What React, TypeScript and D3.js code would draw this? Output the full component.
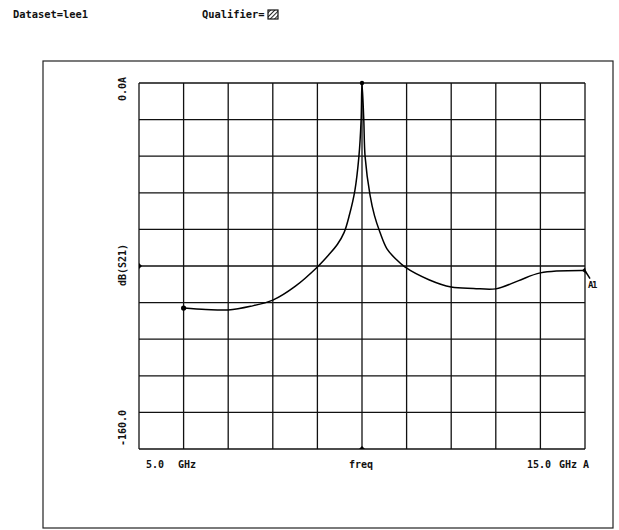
import React, { useEffect, useRef } from 'react';
import * as d3 from 'd3';

// trace values (frequency in GHz, dB(S21))
const freqGHz = [6.0, 6.5, 7.0, 7.5, 8.0, 8.5, 9.0, 9.25, 9.45, 9.6, 9.72, 9.84, 9.93, 9.98, 10.0, 10.04, 10.07, 10.18, 10.28, 10.4, 10.56, 10.75, 10.96, 11.5, 12.0, 12.5, 13.0, 13.5, 14.0, 15.0];
const dbS21 = [-98.4, -99.0, -99.2, -97.6, -94.9, -88.9, -80.4, -75.2, -70.5, -65.3, -57.5, -47.0, -32.3, -16.2, 0.0, -16.2, -32.3, -49.0, -58.0, -65.1, -72.5, -76.8, -80.4, -86.0, -89.2, -89.8, -90.0, -86.5, -83.0, -82.0];

const xTicks = [5, 6, 7, 8, 9, 10, 11, 12, 13, 14, 15];
const yTicks = [0, -16, -32, -48, -64, -80, -96, -112, -128, -144, -160];
const refLevel = -80;

const W = 619;
const H = 530;
const FONT = '"DejaVu Sans Mono", monospace';

const App = () => {
  const ref = useRef<SVGSVGElement | null>(null);

  useEffect(() => {
    if (!ref.current) return;
    const svg = d3.select(ref.current);
    svg.selectAll('*').remove();

    const plot = { left: 139, top: 83, right: 585, bottom: 449 };

    const x = d3.scaleLinear().domain([5, 15]).range([plot.left, plot.right]);
    const y = d3.scaleLinear().domain([-160, 0]).range([plot.bottom, plot.top]);

    // hatch pattern for the qualifier box
    const defs = svg.append('defs');
    const pat = defs.append('pattern')
      .attr('id', 'hatch')
      .attr('patternUnits', 'userSpaceOnUse')
      .attr('width', 3)
      .attr('height', 3)
      .attr('patternTransform', 'rotate(45)');
    pat.append('rect').attr('width', 3).attr('height', 3).attr('fill', '#fff');
    pat.append('line').attr('x1', 0).attr('y1', 0).attr('x2', 0).attr('y2', 3)
      .attr('stroke', '#111').attr('stroke-width', 1.8);

    // header
    svg.append('text')
      .attr('x', 13).attr('y', 18)
      .style('font-family', FONT).style('font-size', '10.4px').style('font-weight', 'bold')
      .attr('fill', '#111')
      .text('Dataset=lee1');
    svg.append('text')
      .attr('x', 202).attr('y', 18)
      .style('font-family', FONT).style('font-size', '10.4px').style('font-weight', 'bold')
      .attr('fill', '#111')
      .text('Qualifier=');
    svg.append('rect')
      .attr('x', 268).attr('y', 10).attr('width', 10).attr('height', 9)
      .attr('fill', 'url(#hatch)').attr('stroke', '#111').attr('stroke-width', 1.2);

    // outer frame
    svg.append('rect')
      .attr('x', 43).attr('y', 61).attr('width', 570).attr('height', 467)
      .attr('fill', 'none').attr('stroke', '#222').attr('stroke-width', 1.2);

    // grid
    const grid = svg.append('g').attr('stroke', '#111').attr('stroke-width', 1.3);
    grid.selectAll('.vx')
      .data(xTicks)
      .enter()
      .append('line')
      .attr('x1', d => x(d)).attr('x2', d => x(d))
      .attr('y1', plot.top).attr('y2', plot.bottom);
    grid.selectAll('.hy')
      .data(yTicks)
      .enter()
      .append('line')
      .attr('y1', d => y(d)).attr('y2', d => y(d))
      .attr('x1', plot.left).attr('x2', plot.right);

    // trace
    const line = d3.line<number>()
      .x((d, i) => x(freqGHz[i]))
      .y(d => y(d))
      .curve(d3.curveCatmullRom.alpha(0.5));
    svg.append('path')
      .datum(dbS21)
      .attr('d', line)
      .attr('fill', 'none')
      .attr('stroke', '#000')
      .attr('stroke-width', 1.5);

    // markers
    svg.append('circle')
      .attr('cx', x(freqGHz[0])).attr('cy', y(dbS21[0])).attr('r', 2.6).attr('fill', '#000');
    svg.append('circle')
      .attr('cx', x(10)).attr('cy', y(0)).attr('r', 2.2).attr('fill', '#000');
    svg.append('path')
      .attr('d', `M${x(5)},${y(refLevel) - 3}L${x(5) + 3},${y(refLevel)}L${x(5)},${y(refLevel) + 3}Z`)
      .attr('fill', '#000');
    svg.append('path')
      .attr('d', `M${x(10) - 3},${y(-160)}L${x(10)},${y(-160) - 3}L${x(10) + 3},${y(-160)}Z`)
      .attr('fill', '#000');
    const ex = x(freqGHz[freqGHz.length - 1]);
    const ey = y(dbS21[dbS21.length - 1]);
    svg.append('path')
      .attr('d', `M${ex - 3},${ey}L${ex},${ey - 3}L${ex + 2},${ey + 4}Z`)
      .attr('fill', '#000');
    svg.append('line')
      .attr('x1', ex).attr('y1', ey).attr('x2', ex + 5).attr('y2', ey + 8)
      .attr('stroke', '#000').attr('stroke-width', 1.5);
    svg.append('text')
      .attr('x', ex + 3).attr('y', ey + 17)
      .style('font-family', FONT).style('font-size', '9px').style('font-weight', 'bold')
      .style('letter-spacing', '-1.5px')
      .attr('fill', '#111')
      .text('A1');

    // y labels (rotated)
    const yLabel = (txt: string, cy: number) => {
      svg.append('text')
        .attr('transform', `translate(126, ${cy}) rotate(-90)`)
        .attr('text-anchor', 'middle')
        .style('font-family', FONT).style('font-size', '10px').style('font-weight', 'bold')
        .attr('fill', '#111')
        .text(txt);
    };
    yLabel('0.0A', 89);
    yLabel('dB(S21)', 265);
    yLabel('-160.0', 428);

    // x labels
    const xLabel = (txt: string, px: number) => {
      svg.append('text')
        .attr('x', px).attr('y', 468)
        .style('font-family', FONT).style('font-size', '10px').style('font-weight', 'bold')
        .attr('fill', '#111')
        .text(txt);
    };
    xLabel(`${d3.format('.1f')(xTicks[0])}`, 146);
    xLabel('GHz', 178);
    xLabel('freq', 349);
    xLabel(`${d3.format('.1f')(xTicks[xTicks.length - 1])}`, 527);
    xLabel('GHz A', 559);
  }, []);

  return (
    <div style={{ position: 'fixed', left: 0, top: 0, width: W, height: H, background: '#fff' }}>
      <svg ref={ref} width={W} height={H} style={{ display: 'block' }} />
    </div>
  );
};

export default App;
